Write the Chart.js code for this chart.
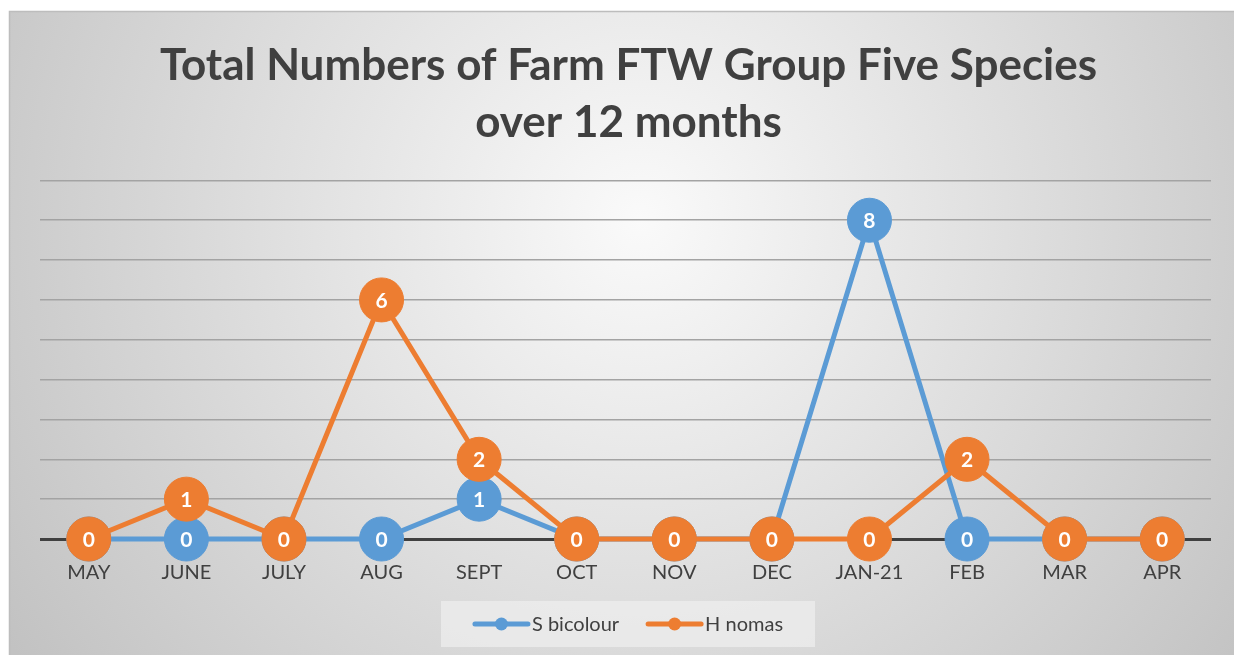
<!DOCTYPE html>
<html>
<head>
<meta charset="utf-8">
<style>
html,body{margin:0;padding:0;background:#fff;}
#wrap{width:1234px;height:655px;position:relative;}
</style>
<script src="https://cdn.jsdelivr.net/npm/chart.js@4.4.1/dist/chart.umd.min.js"></script>
</head>
<body>
<div id="wrap"><canvas id="c" width="1234" height="655"></canvas></div>
<script>
const categories = ['MAY','JUNE','JULY','AUG','SEPT','OCT','NOV','DEC','JAN-21','FEB','MAR','APR'];
const sBicolour = [0,0,0,0,1,0,0,0,8,0,0,0];
const hNomas = [0,1,0,6,2,0,0,0,0,2,0,0];
const titleLines = ['Total Numbers of Farm FTW Group Five Species','over 12 months'];
const seriesNames = ['S bicolour','H nomas'];
const seriesColors = ['#5B9BD5','#ED7D31'];

const bgPlugin = {
  id: 'bg',
  beforeDraw(chart){
    const ctx = chart.ctx;
    ctx.save();
    ctx.fillStyle = '#ffffff';
    ctx.fillRect(0,0,chart.width,chart.height);
    const g = ctx.createRadialGradient(640,220,0,640,220,760);
    g.addColorStop(0,'#fafafa');
    g.addColorStop(1,'#c2c2c2');
    ctx.fillStyle = g;
    ctx.fillRect(9,11,chart.width-9,chart.height-11);
    ctx.strokeStyle = '#bdbdbd';
    ctx.lineWidth = 1.5;
    ctx.beginPath();
    ctx.moveTo(9.5,chart.height);
    ctx.lineTo(9.5,11.5);
    ctx.lineTo(chart.width,11.5);
    ctx.stroke();
    ctx.restore();
  }
};

const labelPlugin = {
  id: 'ptlabels',
  afterDatasetDraw(chart, args){
    const meta = args.meta;
    const ds = chart.data.datasets[args.index];
    const ctx = chart.ctx;
    ctx.save();
    ctx.fillStyle = '#ffffff';
    ctx.font = 'bold 21px Lato';
    ctx.textAlign = 'center';
    ctx.textBaseline = 'middle';
    meta.data.forEach((pt,i)=>{
      ctx.fillText(String(ds.data[i]), pt.x, pt.y+1);
    });
    ctx.restore();
  }
};

const legendPlugin = {
  id: 'customLegend',
  afterDraw(chart){
    const ctx = chart.ctx;
    ctx.save();
    ctx.fillStyle = 'rgba(238,238,238,0.75)';
    ctx.fillRect(441,601,374,46);
    ctx.font = '20px Lato';
    ctx.textBaseline = 'middle';
    const lineW = 57, gap = 2, itemGap = 27;
    const widths = chart.data.datasets.map(d => lineW + gap + ctx.measureText(d.label).width);
    const total = widths.reduce((a,b)=>a+b,0) + itemGap*(widths.length-1);
    let x = 628 - total/2;
    const y = 624;
    chart.data.datasets.forEach((d,i)=>{
      ctx.strokeStyle = d.borderColor;
      ctx.lineWidth = 5;
      ctx.lineCap = 'round';
      ctx.beginPath();
      ctx.moveTo(x+2,y);
      ctx.lineTo(x+lineW-2,y);
      ctx.stroke();
      ctx.fillStyle = d.borderColor;
      ctx.beginPath();
      ctx.arc(x+lineW/2,y,6.5,0,Math.PI*2);
      ctx.fill();
      ctx.fillStyle = '#404040';
      ctx.fillText(d.label, x+lineW+gap, y+1);
      x += widths[i] + itemGap;
    });
    ctx.restore();
  }
};

const chart = new Chart(document.getElementById('c'), {
  type: 'line',
  data: {
    labels: categories,
    datasets: [
      {label: seriesNames[0], data: sBicolour, borderColor: seriesColors[0], backgroundColor: seriesColors[0],
       pointBackgroundColor: seriesColors[0], pointBorderColor: seriesColors[0], borderWidth: 5,
       pointRadius: 22, pointBorderWidth: 1, pointHoverRadius: 22, tension: 0, order: 2, clip: false},
      {label: seriesNames[1], data: hNomas, borderColor: seriesColors[1], backgroundColor: seriesColors[1],
       pointBackgroundColor: seriesColors[1], pointBorderColor: seriesColors[1], borderWidth: 5,
       pointRadius: 22, pointBorderWidth: 1, pointHoverRadius: 22, tension: 0, order: 1, clip: false}
    ]
  },
  options: {
    responsive: false,
    animation: false,
    events: [],
    layout: {padding: {left: 40, right: 17, top: 0, bottom: 71}},
    plugins: {
      legend: {display: false},
      tooltip: {enabled: false},
      title: {
        display: true,
        text: titleLines,
        color: '#404040',
        font: {family: 'Lato', weight: 'bold', size: 44, lineHeight: 1.3},
        padding: {top: 37, bottom: 29}
      }
    },
    scales: {
      x: {
        offset: true,
        grid: {display: false, drawTicks: false},
        border: {display: false},
        ticks: {color: '#404040', font: {family: 'Lato', size: 20}, padding: 22, maxRotation: 0, autoSkip: false},
        afterFit(s){ s.height = 45; }
      },
      y: {
        min: 0, max: 9,
        ticks: {display: false, stepSize: 1},
        border: {display: false},
        grid: {
          drawTicks: false,
          color: c => c.tick.value === 0 ? '#404040' : '#a3a3a3',
          lineWidth: c => c.tick.value === 0 ? 3 : 1.6
        },
        afterFit(s){ s.width = 0; }
      }
    }
  },
  plugins: [bgPlugin, labelPlugin, legendPlugin]
});
</script>
</body>
</html>
